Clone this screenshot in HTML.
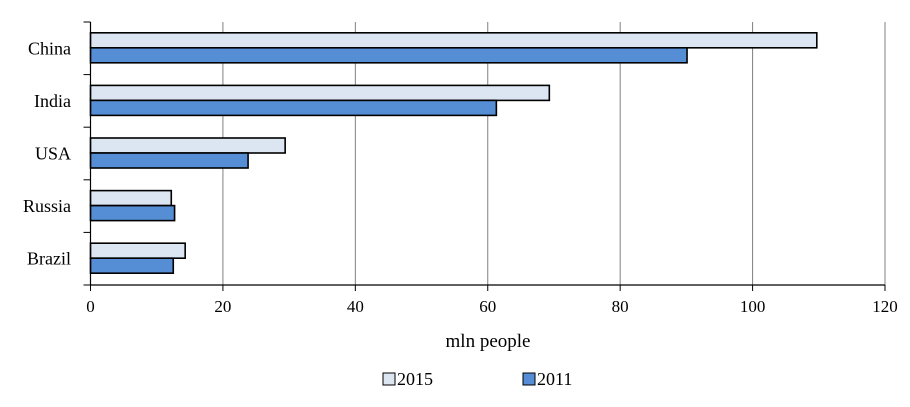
<!DOCTYPE html>
<html><head><meta charset="utf-8"><style>
body{margin:0;background:#fff;font-family:"Liberation Serif",serif;}
</style></head><body>
<svg id="chart" width="910" height="402" xmlns="http://www.w3.org/2000/svg"></svg>
<script>
const categories=["China","India","USA","Russia","Brazil"];
const values2015=[109.7,69.3,29.4,12.2,14.3];
const values2011=[90.1,61.3,23.8,12.7,12.5];
const ticks=[0,20,40,60,80,100,120];
const svg=document.getElementById('chart');
const NS="http://www.w3.org/2000/svg";
const x0=90.5,x1=885,plotTop=22,plotBottom=285,xmax=120;
const xs=v=>x0+(x1-x0)*v/xmax;
const band=(plotBottom-plotTop)/categories.length;
function mk(t,a,name){const e=document.createElementNS(NS,t);for(const k in a)e.setAttribute(k,a[k]);


svg.appendChild(e);return e;}
ticks.forEach(t=>{if(t>0)mk('line',{x1:xs(t),x2:xs(t),y1:plotTop,y2:plotBottom,stroke:'#808080','stroke-width':1},'gridline-'+t);
mk('line',{x1:xs(t),x2:xs(t),y1:plotBottom,y2:plotBottom+6,stroke:'#000'},'x-tick-'+t);
const tx=mk('text',{x:xs(t),y:plotBottom+27,'text-anchor':'middle','font-size':17},'x-tick-label-'+t);tx.textContent=t;});
for(let i=0;i<=categories.length;i++){mk('line',{x1:x0-7,x2:x0,y1:plotTop+band*i,y2:plotTop+band*i,stroke:'#000'},'y-tick-'+i);}
categories.forEach((c,i)=>{const yc=plotTop+band*i+band/2;
mk('rect',{x:x0,y:yc-15.5,width:xs(values2015[i])-x0,height:15,fill:'#dce6f2',stroke:'#000','stroke-width':1.6},'bar-2015-'+c.toLowerCase());
mk('rect',{x:x0,y:yc-0.5,width:xs(values2011[i])-x0,height:15,fill:'#558ed5',stroke:'#000','stroke-width':1.6},'bar-2011-'+c.toLowerCase());
const tx=mk('text',{x:71,y:yc+6,'text-anchor':'end','font-size':18},'y-label-'+c.toLowerCase());tx.textContent=c;});
mk('line',{x1:x0,x2:x0,y1:plotTop,y2:plotBottom,stroke:'#000','stroke-width':1.2},'y-axis');
mk('line',{x1:x0,x2:x1,y1:plotBottom,y2:plotBottom,stroke:'#000','stroke-width':1.2},'x-axis');
const xt=mk('text',{x:488,y:347,'text-anchor':'middle','font-size':19},'x-axis-title');xt.textContent='mln people';
mk('rect',{x:383,y:373,width:12,height:12,fill:'#dce6f2',stroke:'#000'},'legend-swatch-2015');
const l1=mk('text',{x:397,y:385,'font-size':18},'legend-label-2015');l1.textContent='2015';
mk('rect',{x:523,y:373,width:12,height:12,fill:'#558ed5',stroke:'#000'},'legend-swatch-2011');
const l2=mk('text',{x:537,y:385,'font-size':18},'legend-label-2011');l2.textContent='2011';
</script>
</body></html>
